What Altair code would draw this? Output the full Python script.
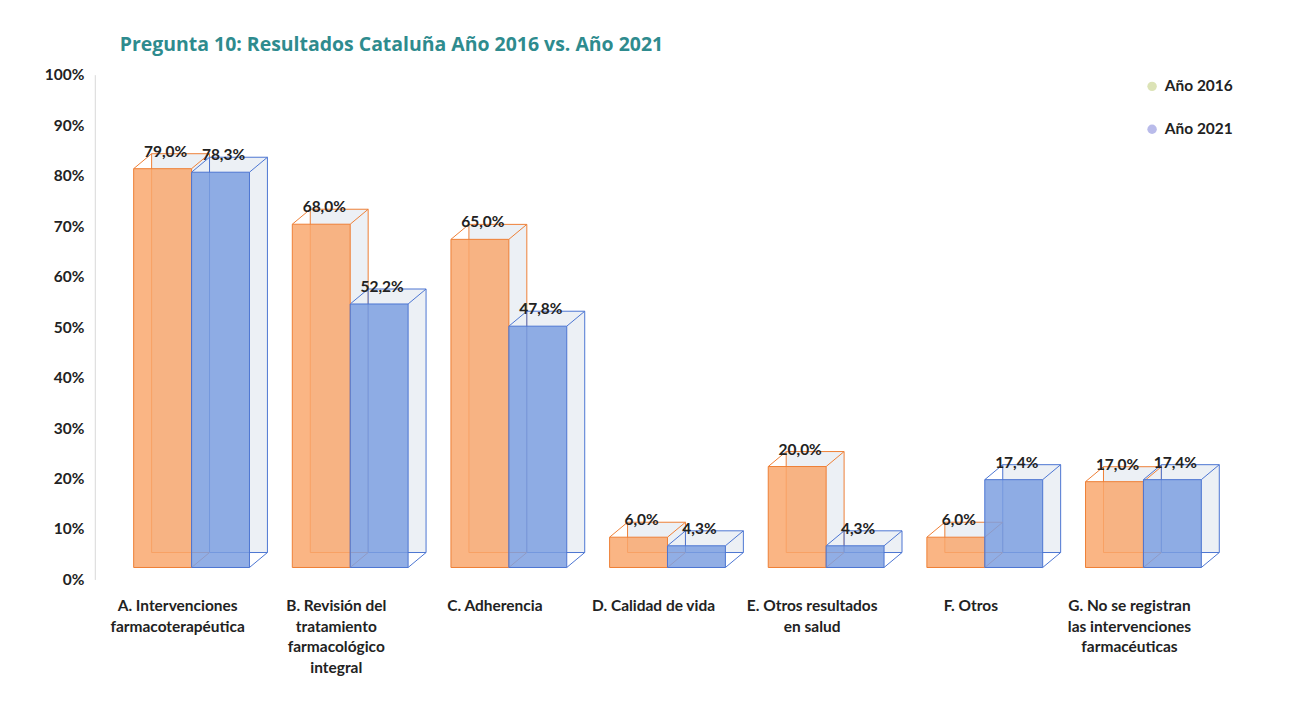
import altair as alt
import pandas as pd

categories = [
    "A. Intervenciones\nfarmacoterapéutica",
    "B. Revisión del\ntratamiento\nfarmacológico\nintegral",
    "C. Adherencia",
    "D. Calidad de vida",
    "E. Otros resultados\nen salud",
    "F. Otros",
    "G. No se registran\nlas intervenciones\nfarmacéuticas",
]
years = ["Año 2016", "Año 2021"]
values_2016 = [79.0, 68.0, 65.0, 6.0, 20.0, 6.0, 17.0]
values_2021 = [78.3, 52.2, 47.8, 4.3, 4.3, 17.4, 17.4]
y_ticks = [0, 10, 20, 30, 40, 50, 60, 70, 80, 90, 100]

rows = []
for i, (c, a, b) in enumerate(zip(categories, values_2016, values_2021)):
    rows.append({"cat": c, "idx": i, "j": 0, "year": years[0], "value": a})
    rows.append({"cat": c, "idx": i, "j": 1, "year": years[1], "value": b})
df = pd.DataFrame(rows)
cat_df = pd.DataFrame({"cat": categories, "idx": list(range(len(categories)))})

FONT = "Lato"
BAR_FILL = ["#F9A76C", "#7C9EE0"]
BAR_EDGE = ["#EE7F36", "#4C75D2"]
LEGEND_COLORS = ["#DCE3B6", "#B9BBEA"]

W = 0.365         # width of one bar, in category steps
DX, DY = 18, 15   # depth of the 3D box (px)
LIFT = 12         # front face raised above the axis (px)

x_scale = alt.Scale(domain=[-0.61, 6.597], nice=False, zero=False)
y_scale = alt.Scale(domain=[0, 100], nice=False, zero=True)

y_axis = alt.Axis(title=None, values=y_ticks, labelExpr="datum.value + '%'",
                  grid=False, ticks=False, domain=True, domainColor="#D9D9D9",
                  labelFont=FONT, labelFontSize=15.5, labelFontWeight="bold",
                  labelColor="#222222", labelPadding=11)

base = alt.Chart(df).transform_calculate(
    x0=f"datum.idx + (datum.j - 1) * {W}",
    x1=f"datum.idx + datum.j * {W}",
    zero="0",
)

X0 = alt.X("x0:Q", scale=x_scale, axis=None)
X1 = alt.X2("x1:Q")
Y = alt.Y("value:Q", scale=y_scale, axis=y_axis)
Y2 = alt.Y2("zero:Q")
edge_enc = alt.Stroke("year:N", sort=years, scale=alt.Scale(domain=years, range=BAR_EDGE), legend=None)
fill_enc = alt.Fill("year:N", sort=years, scale=alt.Scale(domain=years, range=BAR_FILL), legend=None)

back = base.mark_bar(xOffset=DX, x2Offset=DX, yOffset=-LIFT - DY, y2Offset=-LIFT - DY,
                     fill="#DDE3EC", fillOpacity=0.55, strokeWidth=1).encode(
    x=X0, x2=X1, y=Y, y2=Y2, stroke=edge_enc)

front = base.mark_bar(yOffset=-LIFT, y2Offset=-LIFT, fillOpacity=0.84, strokeWidth=1).encode(
    x=X0, x2=X1, y=Y, y2=Y2, fill=fill_enc, stroke=edge_enc)


def edge(xfield, yfield):
    return base.mark_rule(xOffset=0, x2Offset=DX, yOffset=-LIFT, y2Offset=-LIFT - DY,
                          strokeWidth=1).encode(
        x=alt.X(f"{xfield}:Q", scale=x_scale, axis=None), x2=alt.X2(xfield),
        y=alt.Y(f"{yfield}:Q", scale=y_scale), y2=alt.Y2(yfield), stroke=edge_enc)


tl = edge("x0", "value")
tr = edge("x1", "value")
br = edge("x1", "zero")

labels = base.transform_calculate(
    xm="(datum.x0 + datum.x1) / 2",
    lbl="replace(format(datum.value, '.1f'), '.', ',') + '%'",
).mark_text(font=FONT, fontSize=15.5, fontWeight="bold", color="#222222",
            dx=3, dy=-29, baseline="middle").encode(
    x=alt.X("xm:Q", scale=x_scale, axis=None), y=Y, text="lbl:N")

cat_labels = alt.Chart(cat_df).transform_calculate(zero="0").mark_text(
    font=FONT, fontSize=15.5, fontWeight="bold", color="#222222",
    baseline="middle", align="center", lineBreak="\n", lineHeight=20.5, dx=-14, dy=27).encode(
    x=alt.X("idx:Q", scale=x_scale, axis=None),
    y=alt.Y("zero:Q", scale=y_scale), text="cat:N")

legend_layer = base.mark_circle(opacity=0, size=0).encode(
    x=X0, y=Y,
    color=alt.Color("year:N", sort=years, scale=alt.Scale(domain=years, range=LEGEND_COLORS),
                    legend=alt.Legend(title=None, orient="none", legendX=1052, legendY=4,
                                      symbolType="circle", symbolSize=90, symbolOpacity=1,
                                      labelFont=FONT, labelFontSize=15.5, labelFontWeight="bold",
                                      labelColor="#222222", rowPadding=26, labelOffset=5)))

chart = alt.layer(back, tl, tr, br, front, labels, cat_labels, legend_layer).resolve_scale(
    color="independent"
).properties(
    width=1146, height=506,
    title=alt.Title("Pregunta 10: Resultados Cataluña Año 2016 vs. Año 2021",
                    font="Open Sans", fontSize=19.5, fontWeight="bold", color="#2E8B8E",
                    anchor="start", frame="group", offset=12, dx=25),
    padding={"left": 87, "top": 66, "right": 60, "bottom": 110},
    autosize=alt.AutoSizeParams(type="none"),
).configure(background="white").configure_view(stroke="transparent", strokeWidth=0)

chart.save("out.html", embed_options={"renderer": "svg", "actions": False})
